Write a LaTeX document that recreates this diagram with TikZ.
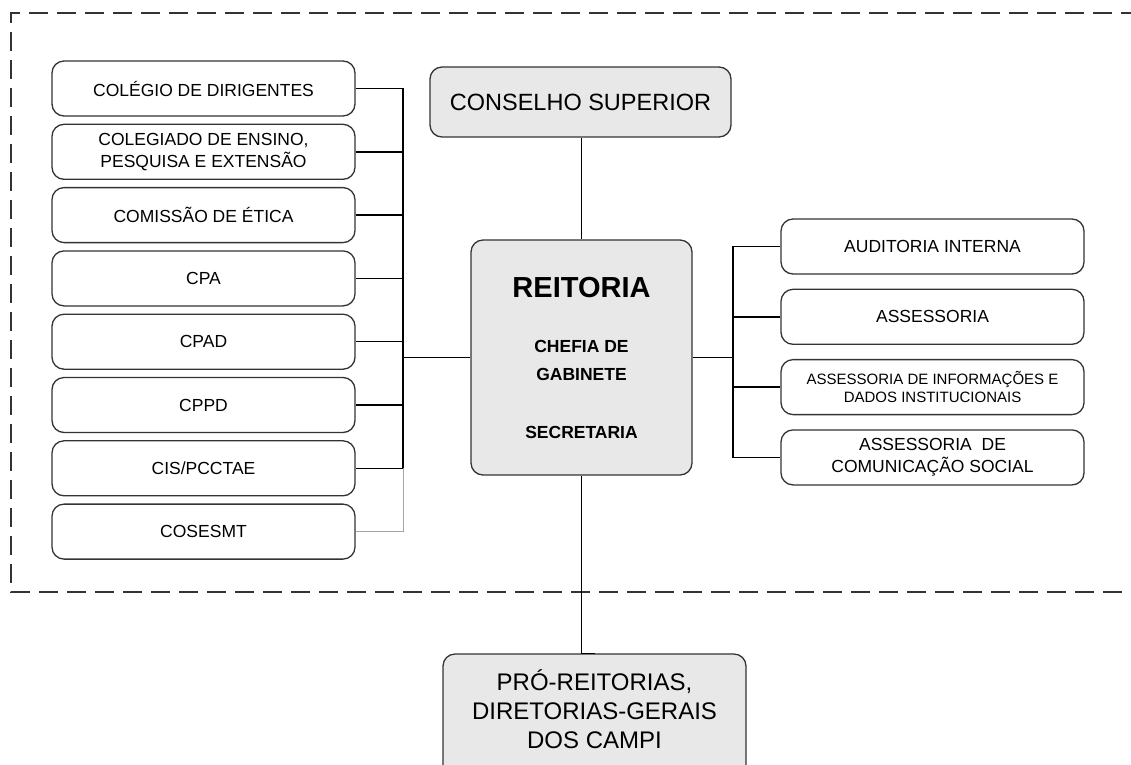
\documentclass[tikz,border=0pt]{standalone}
\usepackage{fontspec}
\setmainfont{Liberation Sans}
\usetikzlibrary{positioning}
\definecolor{boxgray}{gray}{0.91}
\tikzset{
  orgbox/.style={draw=black!80, line width=1.3pt, rounded corners=12pt, align=center, inner sep=0pt},
  sidebox/.style={orgbox, minimum width=303pt, minimum height=55pt, font=\fontsize{17.5}{21.5}\selectfont},
  mainbox/.style={orgbox, fill=boxgray},
  link/.style={line width=1.5pt},
}
\begin{document}
\begin{tikzpicture}[x=1pt,y=-1pt]
\clip (0,0) rectangle (1131,764);

% moldura tracejada
\draw[line width=1.7pt, black!80, dash pattern=on 19pt off 9pt] (1140,13) -- (11,13) -- (11,592) -- (1140,592);

% coluna da esquerda
\node[sidebox] (cdir) at (203.5,88.5) {COLÉGIO DE DIRIGENTES};
\node[sidebox, below=7pt of cdir] (cepe) {COLEGIADO DE ENSINO,\\PESQUISA E EXTENSÃO};
\node[sidebox, below=7pt of cepe] (ceti) {COMISSÃO DE ÉTICA};
\node[sidebox, below=7pt of ceti] (cpa) {CPA};
\node[sidebox, below=7pt of cpa] (cpad) {CPAD};
\node[sidebox, below=7pt of cpad] (cppd) {CPPD};
\node[sidebox, below=7pt of cppd] (cisp) {CIS/PCCTAE};
\node[sidebox, below=7pt of cisp] (cose) {COSESMT};

% coluna da direita
\node[sidebox] (audi) at (932.5,246.5) {AUDITORIA INTERNA};
\node[sidebox, below=14pt of audi] (asse) {ASSESSORIA};
\node[sidebox, below=14pt of asse, font=\fontsize{15}{18}\selectfont] (ainf) {ASSESSORIA DE INFORMAÇÕES E\\DADOS INSTITUCIONAIS};
\node[sidebox, below=14pt of ainf] (acom) {ASSESSORIA\ \ DE\\COMUNICAÇÃO SOCIAL};

% centro
\node[mainbox, minimum width=221pt, minimum height=235pt, font=\fontsize{17.5}{28}\selectfont\bfseries] (reit) at (581.5,357.5)
  {{\fontsize{29}{29}\selectfont REITORIA}\\[27pt] CHEFIA DE\\GABINETE\\[30pt] SECRETARIA};
\node[mainbox, minimum width=301pt, minimum height=70pt, font=\fontsize{23.5}{28}\selectfont] (cons) at (580.5,102) {CONSELHO SUPERIOR};
\node[mainbox, minimum width=303pt, minimum height=124pt, text depth=14pt, font=\fontsize{24}{29}\selectfont] (pror) at (594.5,716)
  {PRÓ-REITORIAS,\\DIRETORIAS-GERAIS\\DOS CAMPI};

\coordinate (lbus) at (403,357.5);
\coordinate (rbus) at (733,357.5);

% ligacoes
\draw[link] (reit.north |- cons.south) -- (reit.north);
\draw[link] (cdir.east) -| (lbus |- cisp.east) -- (cisp.east);
\draw[link] (cepe.east) -- (cepe.east -| lbus) (ceti.east) -- (ceti.east -| lbus)
  (cpa.east) -- (cpa.east -| lbus) (cpad.east) -- (cpad.east -| lbus) (cppd.east) -- (cppd.east -| lbus);
\draw[link] (lbus) -- (reit.west);
\draw[gray!70, line width=0.8pt] (cose.east) -| (lbus |- cisp.east);
\draw[link] (audi.west) -| (rbus |- acom.west) -- (acom.west);
\draw[link] (asse.west) -- (asse.west -| rbus) (ainf.west) -- (ainf.west -| rbus);
\draw[link] (reit.east) -- (rbus);
\draw[link] (reit.south) -- (reit.south |- pror.north) -- (pror.north);
\end{tikzpicture}
\end{document}
